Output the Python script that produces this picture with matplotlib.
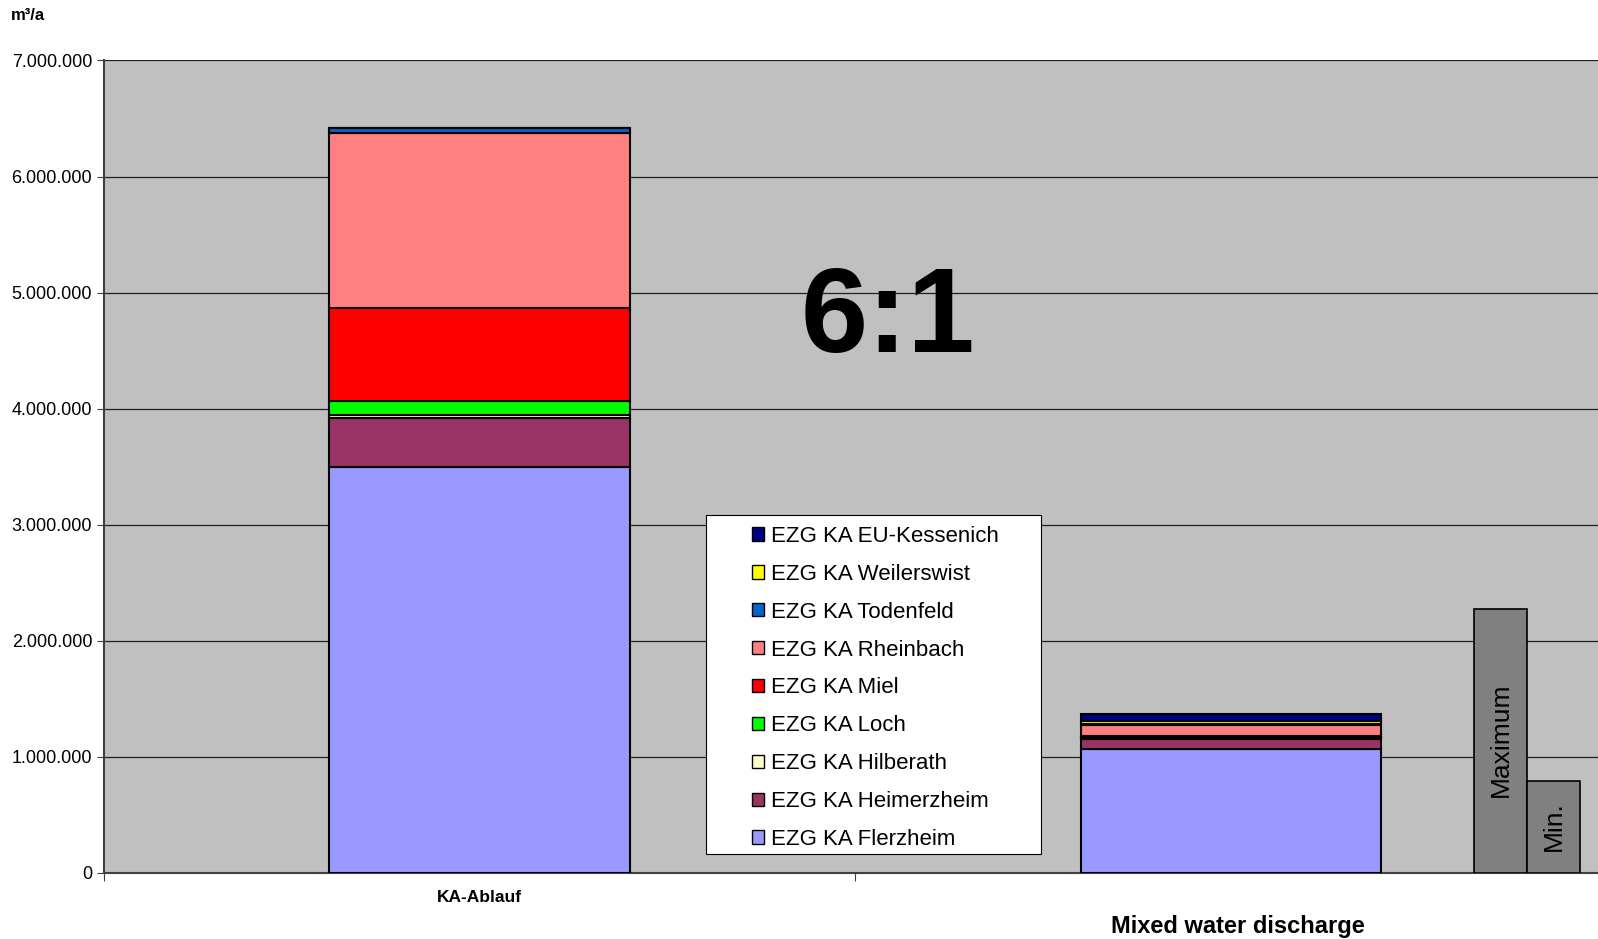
import matplotlib
matplotlib.use("Agg")
import matplotlib.pyplot as plt
from matplotlib.ticker import FuncFormatter, FixedLocator
from matplotlib.patches import Patch, Rectangle

plt.rcParams["font.family"] = ["Liberation Sans", "DejaVu Sans"]

# catchment areas, stacked bottom -> top
areas = ["EZG KA Flerzheim", "EZG KA Heimerzheim", "EZG KA Hilberath", "EZG KA Loch",
         "EZG KA Miel", "EZG KA Rheinbach", "EZG KA Todenfeld", "EZG KA Weilerswist",
         "EZG KA EU-Kessenich"]
colors = ["#9999FF", "#993366", "#FFFFCC", "#00FF00", "#FF0000", "#FF8080",
          "#0066CC", "#FFFF00", "#000080"]

# m³/a per catchment
ka_ablauf = [3500000, 416000, 30000, 115000, 810000, 1500000, 50000, 0, 0]
mixed_water = [1063000, 90000, 8000, 6000, 8000, 95000, 10000, 30000, 60000]

range_labels = ["Maximum", "Min."]
range_values = [2270000, 790000]

fig = plt.figure(figsize=(15.98, 9.39), dpi=100)
ax = fig.add_axes([0.0651, 0.0706, 0.935, 0.865])
ax.set_facecolor("#C0C0C0")

bar_x = [0.5, 1.5]
width = 0.4
bottoms = [0, 0]
for name, col, a, b in zip(areas, colors, ka_ablauf, mixed_water):
    vals = [a, b]
    ax.bar(bar_x, vals, width=width, bottom=bottoms, color=col,
           edgecolor="black", linewidth=1.5, zorder=3)
    bottoms = [bottoms[0] + a, bottoms[1] + b]

# min / max range of mixed water discharge
rng_x = [1.8595, 1.930]
ax.bar(rng_x, range_values, width=0.0705, color="#808080",
       edgecolor="black", linewidth=1.2, zorder=3)
ax.text(rng_x[0], 1150000, range_labels[0], rotation=90, ha="center", va="center",
        fontsize=19, zorder=4)
ax.text(rng_x[1], 400000, range_labels[1], rotation=90, ha="center", va="center",
        fontsize=19, zorder=4)

ax.text(1.044, 4.76e6, "6:1", ha="center", va="center", fontsize=87,
        fontweight="bold", zorder=4)

ax.set_ylim(0, 7000000)
ax.set_xlim(0, 1.989)
ax.yaxis.set_major_locator(FixedLocator(range(0, 7000001, 1000000)))
ax.yaxis.set_major_formatter(FuncFormatter(lambda v, p: f"{int(v):,}".replace(",", ".")))
ax.grid(axis="y", color="#202020", linewidth=0.9, zorder=1)
ax.tick_params(axis="y", labelsize=13, length=5, color="#404040", direction="out")
ax.set_xticks([0, 1])
ax.set_xticklabels([])
ax.tick_params(axis="x", length=6, color="#404040")
for s in ("top", "right"):
    ax.spines[s].set_visible(False)
ax.spines["left"].set_color("#404040")
ax.spines["bottom"].set_color("#404040")
ax.spines["left"].set_linewidth(1.5)
ax.spines["bottom"].set_linewidth(1.5)

narrow = ["Liberation Sans Narrow", "Liberation Sans", "DejaVu Sans"]
ax.text(0.5, -0.031, "KA-Ablauf", transform=ax.get_xaxis_transform(), ha="center",
        va="center", fontsize=12.5, fontweight="bold", family=narrow)
ax.text(1.51, -0.066, "Mixed water discharge", transform=ax.get_xaxis_transform(),
        ha="center", va="center", fontsize=17, fontweight="bold", family=narrow)
fig.text(0.0065, 0.984, "m³/a", ha="left", va="center", fontsize=12, fontweight="bold")

# legend box drawn separately so the entries can sit with a wide left margin
ax.add_patch(Rectangle((0.403, 0.023), 0.224, 0.417, transform=ax.transAxes,
                       facecolor="white", edgecolor="black", linewidth=0.8, zorder=5))
handles = [Patch(facecolor=c, edgecolor="black", label=n)
           for n, c in zip(areas, colors)][::-1]
leg = ax.legend(handles=handles, loc="upper left", bbox_to_anchor=(0.4337, 0.427),
                fontsize=16, frameon=False, handlelength=0.55, handleheight=0.55,
                handletextpad=0.3, labelspacing=0.76, borderpad=0, borderaxespad=0)
leg.set_zorder(6)

fig.savefig("out.png", dpi=100)
